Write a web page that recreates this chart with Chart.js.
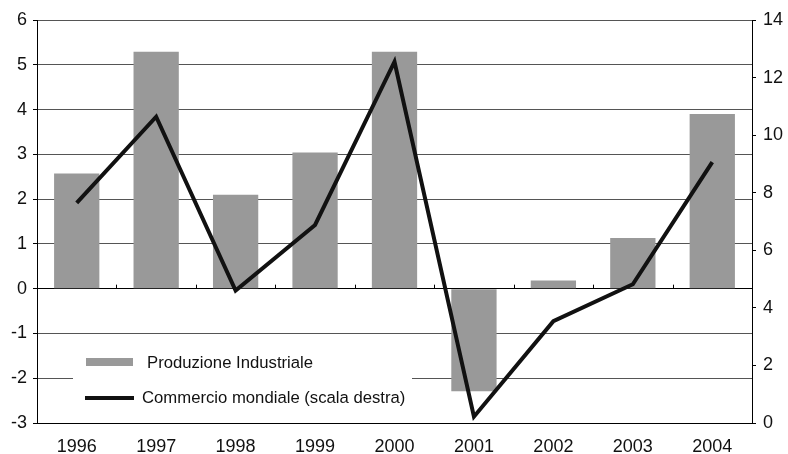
<!DOCTYPE html>
<html>
<head>
<meta charset="utf-8">
<script src="https://cdn.jsdelivr.net/npm/chart.js@4"></script>
<style>
  html, body { margin: 0; padding: 0; background: #fff; }
  #wrap { width: 788px; height: 454px; }
</style>
</head>
<body>
<div id="wrap"><canvas id="chart" width="788" height="454"></canvas></div>
<script>
const years = ['1996', '1997', '1998', '1999', '2000', '2001', '2002', '2003', '2004'];
const produzione = [2.57, 5.29, 2.1, 3.04, 5.29, -2.29, 0.18, 1.13, 3.9];
const commercio = [7.65, 10.64, 4.6, 6.88, 12.55, 0.22, 3.54, 4.82, 9.06];
const leftTicks = [-3, -2, -1, 0, 1, 2, 3, 4, 5, 6];
const rightTicks = [0, 2, 4, 6, 8, 10, 12, 14];
const legendLabels = ['Produzione Industriale', 'Commercio mondiale (scala destra)'];

const FONT = 'Liberation Sans, Arial, sans-serif';

// small upward ticks on the zero line between categories
const zeroTicks = {
  id: 'zeroTicks',
  afterDatasetsDraw(chart) {
    const { ctx, scales: { x, y } } = chart;
    const y0 = y.getPixelForValue(0);
    ctx.save();
    ctx.strokeStyle = '#000';
    ctx.lineWidth = 1;
    for (let i = 1; i < years.length; i++) {
      const bx = Math.round((x.getPixelForValue(i - 1) + x.getPixelForValue(i)) / 2) + 0.5;
      ctx.beginPath();
      ctx.moveTo(bx, y0 - 4);
      ctx.lineTo(bx, y0);
      ctx.stroke();
    }
    ctx.restore();
  }
};

// boxed legend sitting inside the plot, over the gridlines
const insideLegend = {
  id: 'insideLegend',
  beforeDatasetsDraw(chart) {
    const { ctx, chartArea: a } = chart;
    const left = a.left + 36, top = a.top + 320;
    ctx.save();
    ctx.fillStyle = '#fff';
    ctx.fillRect(left, top, 339, 76);
    ctx.fillStyle = '#999999';
    ctx.fillRect(left + 13, top + 18, 47, 8);
    ctx.strokeStyle = '#111';
    ctx.lineWidth = 4;
    ctx.beginPath();
    ctx.moveTo(left + 12, top + 58);
    ctx.lineTo(left + 61, top + 58);
    ctx.stroke();
    ctx.fillStyle = '#111';
    ctx.font = '16.7px ' + FONT;
    ctx.textBaseline = 'middle';
    ctx.fillText(legendLabels[0], left + 74, top + 23);
    ctx.fillText(legendLabels[1], left + 69, top + 58);
    ctx.restore();
  }
};

new Chart(document.getElementById('chart'), {
  data: {
    labels: years,
    datasets: [
      {
        type: 'line',
        label: legendLabels[1],
        data: commercio,
        yAxisID: 'y1',
        borderColor: '#111',
        borderWidth: 4,
        borderJoinStyle: 'miter',
        pointRadius: 0,
        tension: 0,
        order: 0
      },
      {
        type: 'bar',
        label: legendLabels[0],
        data: produzione,
        yAxisID: 'y',
        backgroundColor: '#999999',
        barPercentage: 0.57,
        categoryPercentage: 1,
        order: 1
      }
    ]
  },
  options: {
    responsive: false,
    animation: false,
    layout: { padding: { top: 20, left: 0, right: 0, bottom: 0 } },
    plugins: { legend: { display: false }, tooltip: { enabled: false } },
    scales: {
      x: {
        offset: true,
        grid: { display: false, drawTicks: false },
        border: { color: '#000', width: 1 },
        ticks: { color: '#111', font: { family: FONT, size: 18 }, padding: 13, maxRotation: 0 },
        afterFit(s) { s.height = 31; }
      },
      y: {
        position: 'left',
        min: -3, max: 6,
        afterBuildTicks(s) { s.ticks = leftTicks.map(v => ({ value: v })); },
        grid: {
          color: c => c.tick && c.tick.value === 0 ? '#000' : '#555',
          lineWidth: 1,
          tickLength: 4,
          tickColor: '#000'
        },
        border: { color: '#000', width: 1 },
        ticks: { color: '#111', font: { family: FONT, size: 18 }, padding: 6 },
        afterFit(s) { s.width = 37; }
      },
      y1: {
        position: 'right',
        min: 0, max: 14,
        afterBuildTicks(s) { s.ticks = rightTicks.map(v => ({ value: v })); },
        grid: { drawOnChartArea: false, tickLength: 4, color: '#000' },
        border: { color: '#000', width: 1 },
        ticks: { color: '#111', font: { family: FONT, size: 18 }, padding: 7 },
        afterFit(s) { s.width = 36; }
      }
    }
  },
  plugins: [zeroTicks, insideLegend]
});
</script>
</body>
</html>
